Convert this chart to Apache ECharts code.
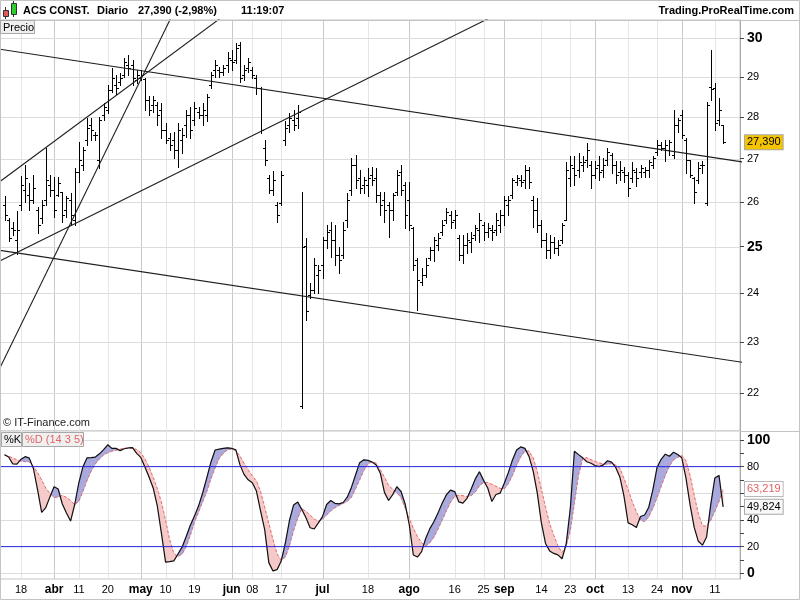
<!DOCTYPE html>
<html><head><meta charset="utf-8">
<script src="https://cdn.jsdelivr.net/npm/echarts@6/dist/echarts.min.js"></script>
<style>html,body{margin:0;padding:0;background:#fff}#c{width:800px;height:600px}</style>
</head><body><div id="c"></div>
<script>
// ---------- DATA ----------
const openP = [25.93,25.59,25.41,25.15,25.93,26.27,26.15,26.04,25.81,25.63,26.04,26.38,26.27,26.15,26.22,25.81,26.04,25.59,26.69,26.85,
27.44,27.80,27.56,26.97,28.05,28.17,28.67,28.80,28.87,29.05,29.30,29.30,28.92,28.97,28.95,28.42,28.30,28.30,28.17,27.69,
27.49,27.44,27.20,27.44,27.80,28.05,27.93,28.12,28.05,28.05,28.80,29.17,29.17,29.11,29.30,29.43,29.43,29.82,29.05,29.22,
29.17,28.97,28.72,27.25,26.55,26.27,25.93,25.97,27.44,27.80,27.93,27.97,21.75,25.01,23.97,24.07,24.39,24.60,25.15,25.37,
25.15,24.82,24.82,25.59,26.27,26.85,26.55,26.38,26.38,26.62,26.55,26.15,26.04,25.93,25.81,26.22,26.69,26.38,26.04,25.41,
24.71,24.24,24.39,24.75,24.93,25.04,25.32,25.59,25.70,25.59,25.19,24.82,25.04,25.11,25.26,25.37,25.48,25.32,25.37,25.37,
25.48,25.70,25.93,26.15,26.46,26.50,26.50,26.74,26.04,25.81,25.48,25.15,24.93,25.11,24.97,25.15,25.59,26.55,26.78,26.74,
26.85,26.97,26.85,26.62,26.85,26.74,26.97,27.08,26.85,26.69,26.69,26.62,26.55,26.69,26.69,26.69,26.74,26.85,27.15,27.32,
27.25,27.20,27.08,27.80,28.05,27.44,26.97,26.55,26.50,26.85,25.97,28.75,28.72,27.93,27.80];
const highP = [26.12,25.63,25.55,25.78,26.60,26.85,26.43,26.62,25.89,26.04,27.25,26.62,26.58,26.58,26.23,26.12,26.20,26.78,27.40,27.28,
27.97,27.97,27.64,28.01,28.34,28.80,29.22,29.05,29.09,29.48,29.56,29.43,29.17,29.17,28.98,28.51,28.51,28.38,28.34,27.85,
27.60,27.64,27.85,27.72,28.17,28.25,28.38,28.25,28.34,28.58,29.13,29.43,29.26,29.30,29.64,29.69,29.86,29.90,29.30,29.48,
29.26,29.05,28.75,27.44,26.62,26.71,26.00,26.71,27.89,28.09,28.17,28.30,26.23,25.18,24.21,24.75,24.60,25.22,25.48,25.55,
25.48,25.00,25.55,26.19,27.01,27.08,26.74,26.58,26.77,26.81,26.77,26.23,26.23,26.00,26.19,26.74,26.85,26.46,26.46,25.44,
24.75,24.53,24.75,25.00,25.22,25.29,25.59,25.85,25.78,25.81,25.26,25.26,25.29,25.33,25.48,25.74,25.55,25.52,25.48,25.74,
25.81,26.12,26.12,26.54,26.62,26.62,26.85,26.81,26.12,26.08,25.59,25.29,25.26,25.22,25.15,25.52,26.92,27.05,27.05,27.13,
27.05,27.36,26.94,26.94,27.05,27.01,27.25,27.13,26.94,26.94,26.81,26.69,26.92,26.78,26.85,26.81,26.97,27.05,27.44,27.40,
27.44,27.44,28.17,27.97,28.17,27.48,26.97,26.58,26.92,26.94,28.38,29.69,28.84,28.46,27.80];
const lowP = [25.59,25.13,25.26,24.83,25.81,26.00,25.81,25.97,25.30,25.52,25.93,26.12,25.66,26.12,25.55,25.66,25.48,25.48,26.46,26.73,
27.32,27.44,27.44,26.78,27.93,28.09,28.62,28.58,28.80,29.00,29.05,28.80,28.84,28.92,28.17,28.05,28.13,27.80,27.48,27.36,
27.20,27.01,26.81,27.13,27.52,27.48,27.80,27.97,27.80,27.89,28.71,29.00,29.00,29.05,29.13,29.17,29.35,28.87,28.92,29.13,
28.96,28.58,27.60,26.85,26.20,26.15,25.55,25.93,27.32,27.64,27.69,27.72,21.71,23.45,23.90,24.00,24.00,24.32,24.96,24.78,
24.60,24.43,24.75,25.44,26.15,26.31,26.20,26.20,26.12,26.38,26.00,25.70,25.55,25.22,25.59,26.15,26.15,25.40,25.37,24.50,
23.65,24.18,24.35,24.71,24.68,24.93,25.26,25.52,25.40,25.40,24.71,24.64,24.86,24.89,25.15,25.11,25.15,25.22,25.15,25.26,
25.33,25.48,25.70,26.08,26.38,26.35,26.31,26.31,25.44,25.33,25.00,24.75,24.75,24.86,24.82,25.08,25.59,26.35,26.38,26.58,
26.71,26.81,26.31,26.54,26.50,26.58,26.85,26.67,26.43,26.50,26.46,26.12,26.46,26.35,26.58,26.58,26.58,26.78,27.08,27.20,
26.94,27.08,27.01,27.64,27.48,26.67,26.58,25.97,26.43,26.67,25.93,28.42,27.69,27.80,27.36];
const closeP = [25.70,25.19,25.37,25.37,26.38,26.55,26.04,26.32,25.48,25.93,26.50,26.27,25.81,26.43,25.70,26.09,25.70,26.69,26.97,27.20,
27.73,27.68,27.56,27.93,28.25,28.67,28.97,28.72,28.97,29.38,29.22,28.97,29.05,29.05,28.42,28.17,28.42,28.05,27.69,27.44,
27.32,27.20,27.69,27.56,28.05,27.69,28.22,28.05,28.17,28.49,29.05,29.30,29.11,29.22,29.48,29.38,29.74,28.97,29.17,29.38,
29.05,28.72,27.69,26.97,26.27,26.50,25.70,26.62,27.73,27.97,27.80,28.12,25.00,23.63,24.07,24.60,24.50,25.15,25.32,25.15,
24.82,24.71,25.37,26.04,26.85,26.50,26.32,26.50,26.55,26.50,26.15,25.93,25.81,25.81,26.15,26.62,26.27,25.70,25.48,24.60,
24.28,24.39,24.60,24.93,25.15,25.19,25.48,25.77,25.55,25.70,24.82,25.04,25.15,25.19,25.41,25.59,25.32,25.41,25.32,25.59,
25.70,26.04,26.04,26.50,26.55,26.46,26.74,26.46,25.81,25.48,25.15,24.93,25.11,24.97,25.04,25.48,26.74,26.85,26.62,26.92,
26.92,27.20,26.62,26.78,26.69,26.85,27.15,26.85,26.62,26.74,26.62,26.32,26.74,26.55,26.78,26.74,26.92,27.01,27.32,27.25,
27.32,27.39,27.80,27.93,27.56,26.97,26.62,26.23,26.78,26.85,28.30,28.70,27.85,28.17,27.39];
const stochK = [88.9,87.2,82.1,81.9,85.5,87.5,86.4,78.6,62.7,45.7,49.3,57.3,64.9,63.2,52.0,45.2,39.2,51.6,67.8,80.0,
86.6,86.7,87.2,89.6,92.8,96.4,93.7,93.7,92.0,93.4,94.0,94.2,90.0,86.9,79.7,72.2,64.0,50.5,29.9,8.4,
8.7,9.3,14.5,19.6,27.6,36.0,42.9,50.6,60.4,71.8,83.5,92.5,93.1,93.7,94.1,93.7,92.7,81.5,74.2,70.1,
67.9,61.7,46.8,32.7,8.0,1.8,2.7,9.2,22.7,39.6,51.3,53.4,47.9,41.6,34.2,33.2,37.8,42.5,51.6,54.6,
52.5,52.1,53.1,57.1,64.4,73.7,83.0,85.1,84.7,83.5,81.2,75.1,60.7,54.6,59.0,64.9,61.5,52.1,36.6,13.7,
12.2,16.2,26.3,33.5,38.8,45.5,52.7,58.9,62.4,61.3,53.6,52.6,56.2,63.2,70.8,76.2,69.7,64.0,53.9,59.1,
60.1,67.4,75.5,85.0,92.5,94.8,93.7,87.7,76.8,60.3,37.8,22.4,16.8,14.9,13.8,10.9,21.8,48.6,91.5,89.0,
86.6,83.7,82.5,80.8,80.0,81.3,84.4,83.4,79.4,72.3,57.8,37.8,36.4,34.3,42.6,43.7,49.6,62.7,79.3,85.5,
89.3,87.8,90.8,89.1,86.6,71.6,51.5,34.4,24.0,21.1,27.3,51.3,71.5,73.4,49.824];
const stochD = [88.9,87.8,86.5,85.0,84.3,83.7,83.7,80.3,75.6,70.0,63.8,60.0,56.9,57.2,58.4,57.0,54.6,51.4,54.1,61.6,
69.8,76.8,82.1,85.8,88.8,90.4,91.6,92.4,93.1,93.8,94.1,94.0,92.8,90.5,85.9,79.6,72.0,63.5,53.3,39.8,
25.0,14.8,12.7,14.4,20.0,28.7,38.3,46.1,53.8,61.6,71.0,79.2,86.3,90.0,92.7,93.3,91.9,87.9,82.5,77.6,
73.1,69.3,61.3,49.6,37.3,25.4,14.5,9.8,12.2,20.7,32.2,41.3,48.6,46.3,43.7,40.6,39.1,40.6,43.7,46.8,
49.1,50.9,52.4,54.0,57.1,63.4,70.3,77.1,82.2,83.6,82.6,77.7,72.0,66.0,63.0,60.4,56.9,49.1,41.4,33.7,
27.5,22.8,20.5,23.0,27.2,33.5,40.0,47.0,53.3,57.7,58.5,58.2,57.6,58.3,61.0,65.6,68.0,68.1,66.8,65.3,
63.7,63.3,67.2,73.4,81.1,87.4,91.6,91.7,86.5,76.4,63.0,49.6,37.2,28.4,20.6,15.5,20.6,32.2,53.0,73.9,
86.3,86.7,85.2,84.0,82.7,82.1,81.8,82.3,81.1,78.8,71.2,62.8,53.6,46.1,39.9,38.8,42.5,48.9,56.7,65.2,
73.5,80.4,85.2,87.0,88.5,84.4,73.4,58.4,44.9,35.6,35.3,39.8,46.5,53.9,63.219];
const holidays = ['2016-03-25','2016-03-28'];
const dateLabels = [['2016-03-18','18',0],['2016-04-01','abr',1],['2016-04-11','11',0],['2016-04-20','20',0],['2016-05-02','may',1],
['2016-05-10','10',0],['2016-05-19','19',0],['2016-06-01','jun',1],['2016-06-08','08',0],['2016-06-17','17',0],['2016-07-01','jul',1],
['2016-07-18','18',0],['2016-08-01','ago',1],['2016-08-16','16',0],['2016-08-25','25',0],['2016-09-01','sep',1],['2016-09-14','14',0],
['2016-09-23','23',0],['2016-10-03','oct',1],['2016-10-13','13',0],['2016-10-24','24',0],['2016-11-01','nov',1],['2016-11-11','11',0]];
const priceTicks = [22,23,24,25,26,27,28,29,30];
const stochTicks = [0,20,40,60,80,100];
const stochGray = [0,40,60,100];
const stochLevels = [20,80];
// trend lines: [trading-day index, price]
const trendLines = [
  [[-2,29.72],[180,26.90]],
  [[-2,24.93],[180,22.58]],
  [[-2,22.34],[42,30.92]],
  [[-2,24.65],[120,30.67]],
  [[-2,26.40],[60,31.16]]
];
const priceMin = 21.28, priceMax = 30.476;
const xMin = -1.09, xMax = 178.09;

// ---------- BUILD ----------
const dates = [];
for (let d = Date.UTC(2016,2,14); dates.length < closeP.length; d += 86400000) {
  const dt = new Date(d), wd = dt.getUTCDay(), s = dt.toISOString().slice(0,10);
  if (wd === 0 || wd === 6 || holidays.includes(s)) continue;
  dates.push(s);
}
const labelIdx = dateLabels.map(l => dates.indexOf(l[0]));
const labelText = {}; const labelMajor = {};
dateLabels.forEach((l,k) => { labelText[labelIdx[k]] = l[1]; labelMajor[labelIdx[k]] = l[2]; });
const fmt = v => v.toFixed(3).replace('.', ',');
const LN = Math.log;
const FONT = 'Liberation Sans';

function vGrid(params, api) {
  const cs = params.coordSys;
  const x = Math.round(api.coord([api.value(0), 0])[0]);
  return {type:'rect', shape:{x:x, y:cs.y, width:1, height:cs.height},
    style:{fill: api.value(1) ? '#c8c8c8' : '#e6e6e6'}};
}
function hGrid(params, api) {
  const cs = params.coordSys;
  const y = Math.round(api.coord([0, api.value(1)])[1]);
  return {type:'rect', shape:{x:cs.x, y:y, width:cs.width, height:1}, style:{fill:'#dcdcdc'}};
}
function ohlcItem(params, api) {
  const i = api.value(0);
  const o = api.coord([i, api.value(1)]), h = api.coord([i, api.value(2)]);
  const l = api.coord([i, api.value(3)]), c = api.coord([i, api.value(4)]);
  const x = Math.round(h[0]);
  const oy = Math.round(o[1]), cy = Math.round(c[1]);
  const f = {fill:'#000'};
  return {type:'group', children:[
    {type:'rect', shape:{x:x, y:Math.round(h[1]), width:1, height:Math.max(1, Math.round(l[1]) - Math.round(h[1]) + 1)}, style:f},
    {type:'rect', shape:{x:x-2, y:oy, width:2, height:1}, style:f},
    {type:'rect', shape:{x:x+1, y:cy, width:2, height:1}, style:f}
  ]};
}
const BLUE = '#a9a9dd', PINK = '#f6c9c9';
function fillItem(params, api) {
  const i = api.value(0);
  const k0 = stochK[i], k1 = stochK[i+1], d0 = stochD[i], d1 = stochD[i+1];
  const a = k0 - d0, b = k1 - d1;
  const P = (x, v) => api.coord([x, v]);
  const polys = [];
  if (a * b >= 0) {
    polys.push([[P(i,k0),P(i+1,k1),P(i+1,d1),P(i,d0)], (a + b) >= 0]);
  } else {
    const t = a / (a - b), xc = i + t, vc = k0 + t * (k1 - k0);
    polys.push([[P(i,k0),P(xc,vc),P(i,d0)], a > 0]);
    polys.push([[P(xc,vc),P(i+1,k1),P(i+1,d1)], b > 0]);
  }
  return {type:'group', children: polys.map(p => ({type:'polygon', shape:{points:p[0]},
    style:{fill: p[1] ? BLUE : PINK, stroke: p[1] ? BLUE : PINK, lineWidth:0.6}}))};
}
function hLine(gridIdx, v, color, z) {
  return {type:'line', xAxisIndex:gridIdx, yAxisIndex:gridIdx, silent:true, z:z, symbol:'none', clip:true,
    lineStyle:{color:color, width:1}, data:[[xMin, v],[xMax, v]]};
}

const series = [];
// main grid lines
series.push({type:'custom', xAxisIndex:0, yAxisIndex:0, silent:true, z:1, renderItem:vGrid,
  data: labelIdx.map(i => [i, labelMajor[i]])});
series.push({type:'custom', xAxisIndex:0, yAxisIndex:0, silent:true, z:1, renderItem:hGrid,
  data: priceTicks.map(p => [0, LN(p)])});
// OHLC bars
series.push({type:'custom', name:'ACS', xAxisIndex:0, yAxisIndex:0, z:3, clip:true, silent:true,
  renderItem: ohlcItem, encode:{x:0, y:[1,2,3,4]},
  data: closeP.map((c,i) => [i, LN(openP[i]), LN(highP[i]), LN(lowP[i]), LN(c)])});
// trend lines
trendLines.forEach((tl, k) => {
  const s = {type:'line', xAxisIndex:0, yAxisIndex:0, z:4, silent:true, clip:true, symbol:'none',
    lineStyle:{color:'#1e1e1e', width:1.1}, data: tl.map(p => [p[0], LN(p[1])])};
  if (k === 0) {
    s.markLine = {silent:true, symbol:'none', animation:false, lineStyle:{color:'rgba(0,0,0,0)'},
      data:[{yAxis: LN(closeP[closeP.length-1]), label:{show:true, position:'end', distance:5,
        formatter: fmt(closeP[closeP.length-1]), color:'#000', fontSize:11, fontFamily:FONT,
        backgroundColor:'#f5c400', borderColor:'#a8a8a8', borderWidth:1, padding:[2,2,1,2]}}]};
  }
  series.push(s);
});
// stochastic grid lines
series.push({type:'custom', xAxisIndex:1, yAxisIndex:1, silent:true, z:1, renderItem:vGrid,
  data: labelIdx.map(i => [i, labelMajor[i]])});
series.push({type:'custom', xAxisIndex:1, yAxisIndex:1, silent:true, z:1, renderItem:hGrid,
  data: stochGray.map(v => [0, v])});
stochLevels.forEach(v => series.push(hLine(1, v, '#2222dd', 5)));
// fill between K and D
series.push({type:'custom', xAxisIndex:1, yAxisIndex:1, silent:true, z:2, clip:true, renderItem: fillItem,
  data: stochK.slice(0, -1).map((v,i) => [i])});
// %D dashed
series.push({type:'line', name:'%D', xAxisIndex:1, yAxisIndex:1, z:3, silent:true, symbol:'none',
  lineStyle:{color:'#e86a6a', width:1, type:[3,2]}, data: stochD.map((v,i) => [i, v]),
  markLine:{silent:true, symbol:'none', animation:false, lineStyle:{color:'rgba(0,0,0,0)'},
    data:[{yAxis: stochD[stochD.length-1], label:{show:true, position:'end', distance:5,
      formatter: fmt(stochD[stochD.length-1]), color:'#e06060', fontSize:11, fontFamily:FONT,
      backgroundColor:'#fff', borderColor:'#b8b8b8', borderWidth:1, padding:[2,2,1,2]}}]}});
// %K solid
series.push({type:'line', name:'%K', xAxisIndex:1, yAxisIndex:1, z:4, silent:true, symbol:'none',
  lineStyle:{color:'#111', width:1.2}, data: stochK.map((v,i) => [i, v]),
  markLine:{silent:true, symbol:'none', animation:false, lineStyle:{color:'rgba(0,0,0,0)'},
    data:[{yAxis: stochK[stochK.length-1], label:{show:true, position:'end', distance:5,
      formatter: fmt(stochK[stochK.length-1]), color:'#000', fontSize:11, fontFamily:FONT,
      backgroundColor:'#f8f8f8', borderColor:'#a8a8a8', borderWidth:1, padding:[2,2,1,2]}}]}});

const boldRich = {b:{fontWeight:'bold', fontSize:14, color:'#000', fontFamily:FONT}, n:{fontSize:11, color:'#000', fontFamily:FONT}};

const option = {
  animation:false,
  backgroundColor:'#fff',
  textStyle:{fontFamily:FONT},
  grid:[
    {left:0, top:20, width:740, height:411, show:true, borderColor:'#c4c4c4', borderWidth:1, backgroundColor:'#fff', containLabel:false, outerBoundsMode:'none'},
    {left:0, top:431, width:740, height:148, show:true, borderColor:'#c4c4c4', borderWidth:1, backgroundColor:'#fff', containLabel:false, outerBoundsMode:'none'}
  ],
  xAxis:[
    {type:'value', gridIndex:0, min:xMin, max:xMax, show:false, axisLine:{onZero:false}, splitLine:{show:false}},
    {type:'value', gridIndex:1, min:xMin, max:xMax, axisLine:{show:false, onZero:false}, axisTick:{show:false}, splitLine:{show:false},
      axisLabel:{customValues: labelIdx, margin:5, formatter: v => {
        const k = Math.round(v); return labelMajor[k] ? '{m|' + labelText[k] + '}' : '{n|' + labelText[k] + '}'; },
        rich:{m:{fontWeight:'bold', fontSize:12, color:'#000', fontFamily:FONT}, n:{fontSize:11, color:'#000', fontFamily:FONT}}}}
  ],
  yAxis:[
    {type:'value', gridIndex:0, position:'right', min:LN(priceMin), max:LN(priceMax), splitLine:{show:false},
      axisLine:{show:true, onZero:false, lineStyle:{color:'#a8a8a8'}},
      axisTick:{show:true, length:4, customValues: priceTicks.map(p => LN(p)), lineStyle:{color:'#444'}},
      axisLabel:{customValues: priceTicks.map(p => LN(p)), margin:7, formatter: v => {
        const p = Math.round(Math.exp(v)); return (p % 5 === 0) ? '{b|' + p + '}' : '{n|' + p + '}'; }, rich: boldRich}},
    {type:'value', gridIndex:1, position:'right', min:-4.28, max:106.73, splitLine:{show:false},
      axisLine:{show:true, onZero:false, lineStyle:{color:'#a8a8a8'}},
      axisTick:{show:true, length:4, customValues:[0,10,20,30,40,50,60,70,80,90,100], lineStyle:{color:'#444'}},
      axisLabel:{customValues: stochTicks, margin:7, formatter: v => (v === 0 || v === 100) ? '{b|' + v + '}' : '{n|' + v + '}', rich: boldRich}}
  ],
  series: series,
  graphic:[
    {type:'rect', shape:{x:0.5,y:0.5,width:799,height:599}, style:{fill:'none', stroke:'#c4c4c4'}, z:100, silent:true},
    {type:'line', shape:{x1:0,y1:20.5,x2:800,y2:20.5}, style:{stroke:'#c4c4c4'}, z:100, silent:true},
    {type:'line', shape:{x1:740,y1:431.5,x2:800,y2:431.5}, style:{stroke:'#c4c4c4'}, z:100, silent:true},
    // candle icon
    {type:'line', shape:{x1:5.5,y1:7,x2:5.5,y2:19}, style:{stroke:'#333'}, z:100},
    {type:'rect', shape:{x:3.5,y:10.5,width:5,height:6}, style:{fill:'#e05a5a', stroke:'#333'}, z:101},
    {type:'line', shape:{x1:13.5,y1:1,x2:13.5,y2:17}, style:{stroke:'#333'}, z:100},
    {type:'rect', shape:{x:11.5,y:3.5,width:5,height:11}, style:{fill:'#2ccf2c', stroke:'#333'}, z:101},
    {type:'text', x:23, y:11, style:{text:'ACS CONST.', font:'bold 11px "Liberation Sans"', fill:'#000', textVerticalAlign:'middle'}, z:100},
    {type:'text', x:97, y:11, style:{text:'Diario', font:'bold 11px "Liberation Sans"', fill:'#000', textVerticalAlign:'middle'}, z:100},
    {type:'text', x:138, y:11, style:{text:'27,390 (-2,98%)', font:'bold 11px "Liberation Sans"', fill:'#000', textVerticalAlign:'middle'}, z:100},
    {type:'text', x:241, y:11, style:{text:'11:19:07', font:'bold 11px "Liberation Sans"', fill:'#000', textVerticalAlign:'middle'}, z:100},
    {type:'text', x:794, y:11, style:{text:'Trading.ProRealTime.com', font:'bold 11px "Liberation Sans"', fill:'#000', textAlign:'right', textVerticalAlign:'middle'}, z:100},
    {type:'rect', shape:{x:0.5,y:20.5,width:34,height:13}, style:{fill:'#efefef', stroke:'#a8a8a8'}, z:100},
    {type:'text', x:3, y:27.5, style:{text:'Precio', font:'11px "Liberation Sans"', fill:'#000', textVerticalAlign:'middle'}, z:101},
    {type:'text', x:3, y:423, style:{text:'\u00a9 IT-Finance.com', font:'11px "Liberation Sans"', fill:'#222', textVerticalAlign:'middle'}, z:100},
    {type:'rect', shape:{x:1.5,y:432.5,width:20,height:14}, style:{fill:'#f0f0f0', stroke:'#a8a8a8'}, z:100},
    {type:'text', x:4, y:440, style:{text:'%K', font:'11px "Liberation Sans"', fill:'#000', textVerticalAlign:'middle'}, z:101},
    {type:'rect', shape:{x:22.5,y:432.5,width:61,height:14}, style:{fill:'#f0f0f0', stroke:'#a8a8a8'}, z:100},
    {type:'text', x:25, y:440, style:{text:'%D (14 3 5)', font:'11px "Liberation Sans"', fill:'#e06666', textVerticalAlign:'middle'}, z:101}
  ]
};
const chart = echarts.init(document.getElementById('c'), null, {renderer:'canvas'});
chart.setOption(option);
</script></body></html>
